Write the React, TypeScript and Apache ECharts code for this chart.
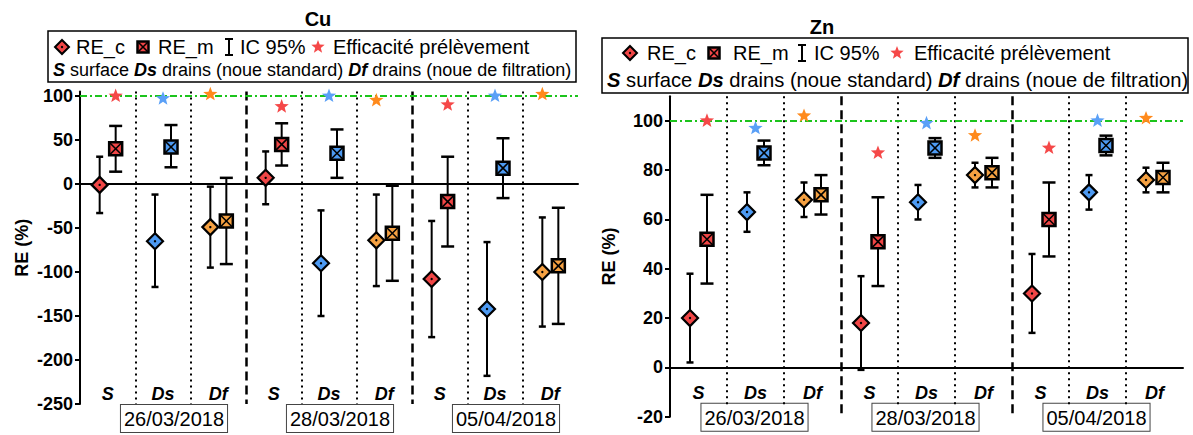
import React, { useEffect, useRef } from 'react';
import * as echarts from 'echarts';

// ---------- data ----------
const categories = ['S', 'Ds', 'Df', 'S', 'Ds', 'Df', 'S', 'Ds', 'Df'];
const dates = ['26/03/2018', '28/03/2018', '05/04/2018'];
const cuTicks = [-250, -200, -150, -100, -50, 0, 50, 100];
const znTicks = [-20, 0, 20, 40, 60, 80, 100];

const cuReC = [-1, -65, -49, 7, -90, -64, -108, -142, -100];
const cuReCLow = [-33, -117, -95, -23, -150, -116, -174, -218, -162];
const cuReCHigh = [31, -12, -3, 37, -30, -12, -42, -66, -38];
const cuReM = [40, 42, -42, 45, 35, -56, -20, 18, -93];
const cuReMLow = [14, 19, -91, 21, 7, -110, -71, -16, -159];
const cuReMHigh = [66, 67, 7, 69, 62, -2, 31, 52, -27];
const cuEff = [100, 97, 102, 88, 100, 95, 90, 100, 102];

const znReC = [20, 63, 68, 18, 67, 78, 30, 71, 76];
const znReCLow = [2, 55, 61, -1, 60, 73, 14, 64, 71];
const znReCHigh = [38, 71, 75, 37, 74, 83, 46, 78, 81];
const znReM = [52, 87, 70, 51, 89, 79, 60, 90, 77];
const znReMLow = [34, 82, 62, 33, 85, 73, 45, 86, 71];
const znReMHigh = [70, 92, 78, 69, 93, 85, 75, 94, 83];
const znEff = [100, 97, 102, 87, 99, 94, 89, 100, 101];

// ---------- styles ----------
const FONT = '"Liberation Sans", Arial, sans-serif';
const siteColor: Record<string, string> = { S: '#f04646', Ds: '#4d9af2', Df: '#f5a142' };
const starColor: Record<string, string> = { S: '#f54848', Ds: '#5aa0f7', Df: '#ff8a1c' };
const starDx: Record<string, number> = { S: 8, Ds: 0, Df: -8 };
const GREEN = '#1cc41c';

function starPoints(cx: number, cy: number, R: number) {
  const pts: number[][] = [];
  const r = R * 0.42;
  for (let k = 0; k < 10; k++) {
    const ang = -Math.PI / 2 + (k * Math.PI) / 5;
    const rr = k % 2 === 0 ? R : r;
    pts.push([cx + rr * Math.cos(ang), cy + rr * Math.sin(ang)]);
  }
  return pts;
}

function diamondShape(x: number, y: number, r: number, col: string, lw: number) {
  return [
    { type: 'polygon', shape: { points: [[x, y - r], [x + r, y], [x, y + r], [x - r, y]] }, style: { fill: col, stroke: '#000', lineWidth: lw } },
    { type: 'circle', shape: { cx: x, cy: y, r: 1.2 }, style: { fill: '#000' } },
  ];
}

function boxShape(x: number, y: number, h: number, col: string, lw: number) {
  return [
    { type: 'rect', shape: { x: x - h, y: y - h, width: 2 * h, height: 2 * h }, style: { fill: col, stroke: '#000', lineWidth: lw } },
    { type: 'line', shape: { x1: x - h, y1: y - h, x2: x + h, y2: y + h }, style: { stroke: '#000', lineWidth: 1.6 } },
    { type: 'line', shape: { x1: x + h, y1: y - h, x2: x - h, y2: y + h }, style: { stroke: '#000', lineWidth: 1.6 } },
  ];
}

function errSeries(xi: number, yi: number, lo: number[], hi: number[], dx: number, cap: number) {
  return {
    type: 'custom', xAxisIndex: xi, yAxisIndex: yi, z: 3, silent: true,
    data: lo.map((v, i) => [i + 0.5, v, hi[i]]),
    encode: { x: 0, y: [1, 2] },
    renderItem: (_p: any, api: any) => {
      const a = api.coord([api.value(0), api.value(2)]);
      const b = api.coord([api.value(0), api.value(1)]);
      const x = a[0] + dx;
      const st = { stroke: '#000', lineWidth: 2 };
      return {
        type: 'group', children: [
          { type: 'line', shape: { x1: x, y1: a[1], x2: x, y2: b[1] }, style: st },
          { type: 'line', shape: { x1: x - cap / 2, y1: a[1], x2: x + cap / 2, y2: a[1] }, style: { stroke: '#000', lineWidth: 2.5 } },
          { type: 'line', shape: { x1: x - cap / 2, y1: b[1], x2: x + cap / 2, y2: b[1] }, style: { stroke: '#000', lineWidth: 2.5 } },
        ],
      };
    },
  };
}

function markerSeries(name: string, xi: number, yi: number, vals: number[], dx: number, kind: 'diamond' | 'box') {
  return {
    name, type: 'custom', xAxisIndex: xi, yAxisIndex: yi, z: 5,
    data: vals.map((v, i) => [i + 0.5, v]),
    renderItem: (p: any, api: any) => {
      const c = api.coord([api.value(0), api.value(1)]);
      const col = siteColor[categories[p.dataIndex]];
      const children = kind === 'diamond' ? diamondShape(c[0] + dx, c[1], 8, col, 2.2) : boxShape(c[0] + dx, c[1], 6.5, col, 2.5);
      return { type: 'group', children };
    },
  };
}

function starSeries(xi: number, yi: number, vals: number[], dxScale: number) {
  return {
    name: 'Efficacité prélèvement', type: 'custom', xAxisIndex: xi, yAxisIndex: yi, z: 6,
    data: vals.map((v, i) => [i + 0.5, v]),
    renderItem: (p: any, api: any) => {
      const c = api.coord([api.value(0), api.value(1)]);
      const site = categories[p.dataIndex];
      return {
        type: 'polygon', shape: { points: starPoints(c[0] + starDx[site] * dxScale, c[1], 7.5) },
        style: { fill: starColor[site] },
      };
    },
  };
}

function sepMarkLine(yTop: number, dottedBottom: number, dashedBottom: number) {
  const dotted = { color: '#000', width: 2, type: [2, 4] as any };
  const dashed = { color: '#000', width: 2.5, type: [9, 5] as any };
  const items: any[] = [];
  for (let k = 1; k < categories.length; k++) {
    const isDash = k % 3 === 0;
    items.push([
      { coord: [k, yTop], lineStyle: isDash ? dashed : dotted },
      { coord: [k, isDash ? dashedBottom : dottedBottom] },
    ]);
  }
  items.push({ yAxis: 100, lineStyle: { color: GREEN, width: 2, type: [7, 3, 2, 3] as any } });
  return { silent: true, symbol: ['none', 'none'], label: { show: false }, data: items, animation: false };
}

function valueXAxis(gi: number) {
  return {
    type: 'value', gridIndex: gi, min: 0, max: categories.length,
    axisLine: { show: true, onZero: true, lineStyle: { color: '#000', width: 2 } },
    axisTick: { show: false }, axisLabel: { show: false }, splitLine: { show: false },
  };
}

function siteXAxis(gi: number, labelMargin: number) {
  return {
    type: 'category', gridIndex: gi, data: categories, position: 'bottom', boundaryGap: true,
    axisLine: { show: false, onZero: false }, axisTick: { show: false }, splitLine: { show: false },
    axisLabel: { margin: labelMargin, fontSize: 18, fontWeight: 'bold', fontStyle: 'italic', color: '#000', fontFamily: FONT, interval: 0 },
  };
}

function dateXAxis(gi: number, dateMargin: number) {
  return {
    type: 'category', gridIndex: gi, data: dates, position: 'bottom', boundaryGap: true,
    axisLine: { show: false, onZero: false }, axisTick: { show: false }, splitLine: { show: false },
    axisLabel: {
      margin: dateMargin, fontSize: 20, color: '#000', fontFamily: FONT, interval: 0,
      borderColor: '#444', borderWidth: 1, padding: [4, 3, 3, 3], backgroundColor: '#fff',
    },
  };
}

function yAxisFor(gi: number, min: number, max: number, ticks: number[], nameGap: number) {
  return {
    type: 'value', gridIndex: gi, min, max,
    name: 'RE (%)', nameLocation: 'middle', nameGap,
    nameTextStyle: { fontSize: 18, fontWeight: 'bold', color: '#000', fontFamily: FONT },
    axisLine: { show: true, onZero: false, lineStyle: { color: '#000', width: 2 } },
    axisTick: { show: true, length: 5, customValues: ticks, lineStyle: { color: '#000', width: 2 } },
    axisLabel: { customValues: ticks, margin: 7, fontSize: 18, fontWeight: 'bold', color: '#000', fontFamily: FONT },
    splitLine: { show: false },
  };
}

function hiddenYAxis(gi: number) {
  return { type: 'value', gridIndex: gi, show: false, min: 0, max: 1 };
}

function legendGraphics(bx: number, by: number, bw: number, bh: number, y1: number, y2: number,
  pos: { dia: number; reC: number; box: number; reM: number; ic: number; icT: number; star: number; eff: number; row2: number },
  fs1: number, fs2: number) {
  const t = (x: number, y: number, text: string, fs: number) => ({
    type: 'text', x, y, style: { text, fill: '#000', fontSize: fs, fontFamily: FONT, verticalAlign: 'middle', align: 'left' },
  });
  return [
    { type: 'rect', shape: { x: bx, y: by, width: bw, height: bh }, style: { fill: '#fff', stroke: '#000', lineWidth: 1.5 } },
    ...diamondShape(pos.dia, y1, 7, siteColor.S, 2),
    t(pos.reC, y1, 'RE_c', fs1),
    ...boxShape(pos.box, y1, 5.5, siteColor.S, 2.5),
    t(pos.reM, y1, 'RE_m', fs1),
    { type: 'line', shape: { x1: pos.ic, y1: y1 - 8, x2: pos.ic, y2: y1 + 8 }, style: { stroke: '#000', lineWidth: 2 } },
    { type: 'line', shape: { x1: pos.ic - 4, y1: y1 - 8, x2: pos.ic + 4, y2: y1 - 8 }, style: { stroke: '#000', lineWidth: 2 } },
    { type: 'line', shape: { x1: pos.ic - 4, y1: y1 + 8, x2: pos.ic + 4, y2: y1 + 8 }, style: { stroke: '#000', lineWidth: 2 } },
    t(pos.icT, y1, 'IC 95%', fs1),
    { type: 'polygon', shape: { points: starPoints(pos.star, y1, 7) }, style: { fill: starColor.S } },
    t(pos.eff, y1, 'Efficacité prélèvement', fs1),
    {
      type: 'text', x: pos.row2, y: y2,
      style: {
        text: '{b|S} surface {b|Ds} drains (noue standard) {b|Df} drains (noue de filtration)',
        fill: '#000', fontSize: fs2, fontFamily: FONT, verticalAlign: 'middle', align: 'left',
        rich: { b: { fontSize: fs2, fontWeight: 'bold', fontStyle: 'italic', fontFamily: FONT, fill: '#000' } },
      },
    },
  ];
}

export default function App() {
  const ref = useRef<HTMLDivElement>(null);
  useEffect(() => {
    document.body.style.margin = '0';
    const chart = echarts.init(ref.current!, null, { renderer: 'svg' });
    const option: any = {
      animation: false,
      backgroundColor: '#fff',
      grid: [
        { left: 80, top: 91.6, width: 498, height: 312.4, containLabel: false },
        { left: 670, top: 96.2, width: 513, height: 320.5, containLabel: false },
        { left: 91, top: 91.6, width: 498, height: 312.4, containLabel: false },
        { left: 669, top: 96.2, width: 513, height: 320.5, containLabel: false },
      ],
      xAxis: [valueXAxis(0), siteXAxis(0, -19), valueXAxis(1), siteXAxis(1, -33), dateXAxis(2, 1), dateXAxis(3, -13)],
      yAxis: [yAxisFor(0, -250, 105, cuTicks, 49), yAxisFor(1, -20, 110, znTicks, 52), hiddenYAxis(2), hiddenYAxis(3)],
      series: [
        { ...errSeries(0, 0, cuReCLow, cuReCHigh, -8, 7), name: 'IC 95%', markLine: sepMarkLine(105, -250, -250) },
        errSeries(0, 0, cuReMLow, cuReMHigh, 8, 13),
        markerSeries('RE_c', 0, 0, cuReC, -8, 'diamond'),
        markerSeries('RE_m', 0, 0, cuReM, 8, 'box'),
        starSeries(0, 0, cuEff, 1),
        { ...errSeries(2, 1, znReCLow, znReCHigh, -8.5, 7), name: 'IC 95%', markLine: sepMarkLine(110, -15.5, -20) },
        errSeries(2, 1, znReMLow, znReMHigh, 8.5, 13),
        markerSeries('RE_c', 2, 1, znReC, -8.5, 'diamond'),
        markerSeries('RE_m', 2, 1, znReM, 8.5, 'box'),
        starSeries(2, 1, znEff, 1.06),
      ],
      graphic: [
        { type: 'text', x: 318, y: 19, style: { text: 'Cu', fontSize: 20, fontWeight: 'bold', fontFamily: FONT, fill: '#000', align: 'center', verticalAlign: 'middle' } },
        { type: 'text', x: 822, y: 27, style: { text: 'Zn', fontSize: 20, fontWeight: 'bold', fontFamily: FONT, fill: '#000', align: 'center', verticalAlign: 'middle' } },
        ...legendGraphics(48, 31, 528, 51, 47, 70,
          { dia: 62, reC: 76, box: 143, reM: 158, ic: 229, icT: 240, star: 318, eff: 333, row2: 53 }, 20, 18),
        ...legendGraphics(602, 38, 586, 55, 53, 80,
          { dia: 630, reC: 647, box: 714, reM: 733, ic: 802, icT: 814, star: 897, eff: 914, row2: 607 }, 20, 20.2),
      ],
    };
    chart.setOption(option);
    return () => chart.dispose();
  }, []);
  return <div ref={ref} style={{ width: 1193, height: 435 }} />;
}
